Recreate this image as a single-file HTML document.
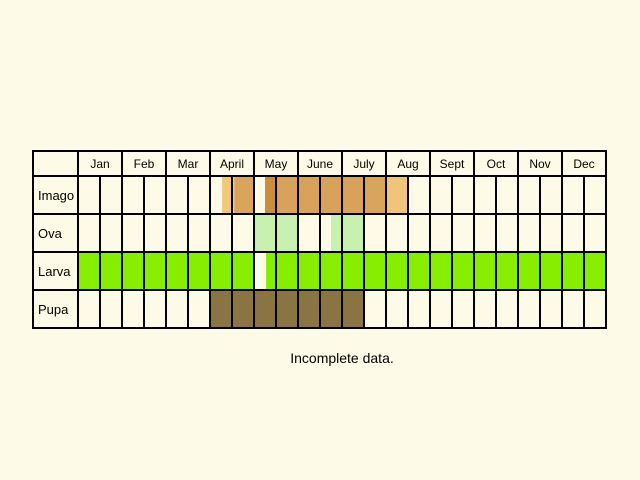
<!DOCTYPE html>
<html><head><meta charset="utf-8"><style>
html,body{margin:0;padding:0;background:#fdfbe8;}
svg{display:block;font-family:"Liberation Sans",Arial,sans-serif;}
</style></head><body>
<svg id="chart" width="640" height="480" viewBox="0 0 640 480">
<rect x="0" y="0" width="640" height="480" fill="#fdfbe8"/>
<g id="fills"></g><g id="grid"></g><g id="labels"></g>
<text x="342" y="363" font-size="14" text-anchor="middle" fill="#000">Incomplete data.</text>
</svg>
<script>
const months = ["Jan","Feb","Mar","April","May","June","July","Aug","Sept","Oct","Nov","Dec"];
const stages = ["Imago","Ova","Larva","Pupa"];
// intervals in half-month units (0..24): [stage index, start, end, color]
const imagoSpans = [[0,6.55,7,"#f0c878"],[0,7,7.1,"#f3cf88"],[0,7.1,8,"#d9a55c"],[0,8.5,9,"#c98f40"],[0,9,13,"#d8a25a"],[0,13,14,"#d8a55c"],[0,14,15,"#f0c47a"]];
const ovaSpans = [[1,8,10,"#c8f0b0"],[1,11.5,13,"#c8f0b0"]];
const larvaSpans = [[2,0,8,"#88ee00"],[2,8.55,24,"#88ee00"]];
const pupaSpans = [[3,6,13,"#8b7444"]];

const x0=78, colW=22, labelX=33, gridTop=151, headH=25;
const rowTops=[176,214,252,290,328];
const xs=h=>x0+h*colW;
const NS="http://www.w3.org/2000/svg";
function mk(tag,attrs,parent){const e=document.createElementNS(NS,tag);for(const k in attrs)e.setAttribute(k,attrs[k]);parent.appendChild(e);return e;}
const fills=document.getElementById('fills'),grid=document.getElementById('grid'),labels=document.getElementById('labels');
[imagoSpans,ovaSpans,larvaSpans,pupaSpans].forEach(arr=>arr.forEach(s=>{
  const r=mk('rect',{x:xs(s[1]),y:rowTops[s[0]],width:xs(s[2])-xs(s[1]),height:rowTops[s[0]+1]-rowTops[s[0]],fill:s[3]},fills);
  
  
}));
mk('rect',{x:labelX,y:gridTop,width:xs(24)-labelX,height:rowTops[4]-gridTop,fill:"none",stroke:"#000","stroke-width":2},grid);
rowTops.slice(0,4).forEach(y=>mk('line',{x1:labelX,x2:xs(24),y1:y,y2:y,stroke:"#000","stroke-width":2},grid));
mk('line',{x1:x0,x2:x0,y1:gridTop,y2:rowTops[4],stroke:"#000","stroke-width":2},grid);
for(let h=1;h<24;h++){
  mk('line',{x1:xs(h),x2:xs(h),y1:h%2?rowTops[0]:gridTop,y2:rowTops[4],stroke:"#000","stroke-width":2},grid);
}
months.forEach((m,i)=>{
  const t=mk('text',{x:xs(i*2+1),y:gridTop+17,"font-size":12,"text-anchor":"middle",fill:"#000"},labels);
  t.textContent=m;
  
  
});
stages.forEach((s,i)=>{
  const t=mk('text',{x:labelX+5,y:(rowTops[i]+rowTops[i+1])/2+5,"font-size":13,fill:"#000"},labels);
  t.textContent=s;
  
  
});
</script>
</body></html>
